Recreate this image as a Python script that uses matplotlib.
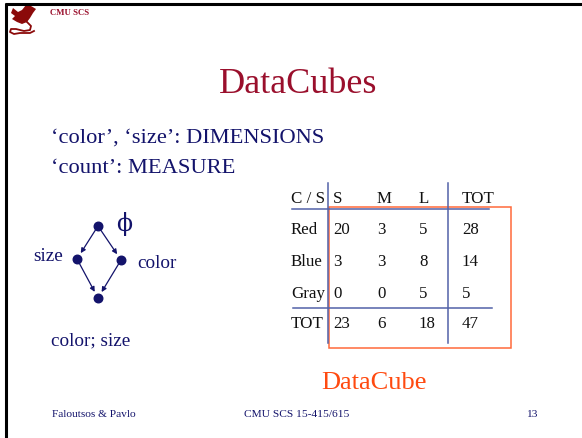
import matplotlib
matplotlib.use("Agg")
import matplotlib.pyplot as plt
from matplotlib.patches import Rectangle, Polygon, FancyArrowPatch

plt.rcParams['font.family'] = ['Liberation Serif', 'DejaVu Serif']

# table data
row_names = ['Red', 'Blue', 'Gray', 'TOT']
col_names = ['S', 'M', 'L', 'TOT']
counts = [[20, 3, 5, 28],
          [3, 3, 8, 14],
          [0, 0, 5, 5],
          [23, 6, 18, 47]]

# lattice nodes
node_names = ['\u03d5', 'size', 'color', 'color; size']
edges = [(0, 1), (0, 2), (1, 3), (2, 3)]

navy = '#13136b'
red = '#9a0f2c'
orange = '#ff4a10'
blue = '#5262a8'

fig = plt.figure(figsize=(5.82, 4.39), dpi=100)
ax = fig.add_axes([0, 0, 1, 1])
ax.set_xlim(0, 582)
ax.set_ylim(439, 0)
ax.axis('off')

# slide frame
ax.plot([5, 582], [4.5, 4.5], color='black', lw=2.2, solid_capstyle='butt')
ax.plot([5.5, 5.5], [4, 439], color='black', lw=2.2, solid_capstyle='butt')

# rough logo (dragon)
logo = '#8b0a0a'
ax.add_patch(Polygon([(13, 9), (18, 13), (22, 11), (26, 6), (31, 7), (36, 10),
                      (33, 14), (30, 19), (27, 23), (22, 25), (17, 23), (12, 20),
                      (15, 17), (11, 14)], closed=True, color=logo, lw=0))
ax.plot([27, 31, 30, 24, 16, 11, 10, 14, 20, 30, 34],
        [23, 27, 31, 32, 30, 30, 33, 35, 34, 34, 32], color=logo, lw=1.3)
ax.text(50, 15, 'CMU SCS', color=red, fontsize=6.3, fontweight='bold', va='baseline')

# title
ax.text(298, 93, 'DataCubes', color=red, fontsize=26, ha='center', va='baseline')

ax.text(51, 143, '\u2018color\u2019, \u2018size\u2019: DIMENSIONS', color=navy,
        fontsize=16.2, va='baseline')
ax.text(51, 173, '\u2018count\u2019: MEASURE', color=navy, fontsize=16.2, va='baseline')

# lattice
node_xy = [(98, 227), (77, 260), (121, 261), (98, 299)]
for a, b in edges:
    ax.add_patch(FancyArrowPatch(node_xy[a], node_xy[b], arrowstyle='-|>',
                                 mutation_scale=7, color=navy, lw=0.9,
                                 shrinkA=3, shrinkB=5))
ax.scatter([p[0] for p in node_xy], [p[1] for p in node_xy], s=38, color=navy, zorder=3)
ax.text(116, 231, node_names[0], color=navy, fontsize=17, va='baseline',
        family=['DejaVu Serif'])
ax.text(33, 261, node_names[1], color=navy, fontsize=13.8, va='baseline')
ax.text(137, 268, node_names[2], color=navy, fontsize=13.8, va='baseline')
ax.text(51, 345, node_names[3], color=navy, fontsize=13.8, va='baseline')

# table
col_x = [333, 377, 419, 462]
row_y = [234, 266, 298, 328]
ax.text(291, 203, 'C / S', color='#111111', fontsize=12.2, va='baseline')
for j, c in enumerate(col_names):
    ax.text(col_x[j], 203, c, color='#111111', fontsize=12.2, va='baseline')
for i, r in enumerate(row_names):
    ax.text(291, row_y[i], r, color='#111111', fontsize=12.2, va='baseline')
    for j in range(len(col_names)):
        ax.text(col_x[j], row_y[i], str(counts[i][j]), color='#111111',
                fontsize=12.2, va='baseline')

ax.plot([292, 489], [210, 210], color=blue, lw=1.1)
ax.plot([293, 492], [309, 309], color=blue, lw=1.1)
ax.plot([328, 328], [184, 344], color=blue, lw=1.1)
ax.plot([448, 448], [184, 344], color=blue, lw=1.1)
ax.add_patch(Rectangle((329, 208), 182, 141, fill=False, edgecolor='#ff6a3a', lw=1.1))

ax.text(374, 389, 'DataCube', color=orange, fontsize=19, ha='center', va='baseline')

# footer
ax.text(52, 417, 'Faloutsos & Pavlo', color=navy, fontsize=8.2, va='baseline')
ax.text(297, 417, 'CMU SCS 15-415/615', color=navy, fontsize=8.2, ha='center', va='baseline')
ax.text(532, 417, '13', color=navy, fontsize=8.2, ha='center', va='baseline')

fig.savefig('out.png', dpi=100)
